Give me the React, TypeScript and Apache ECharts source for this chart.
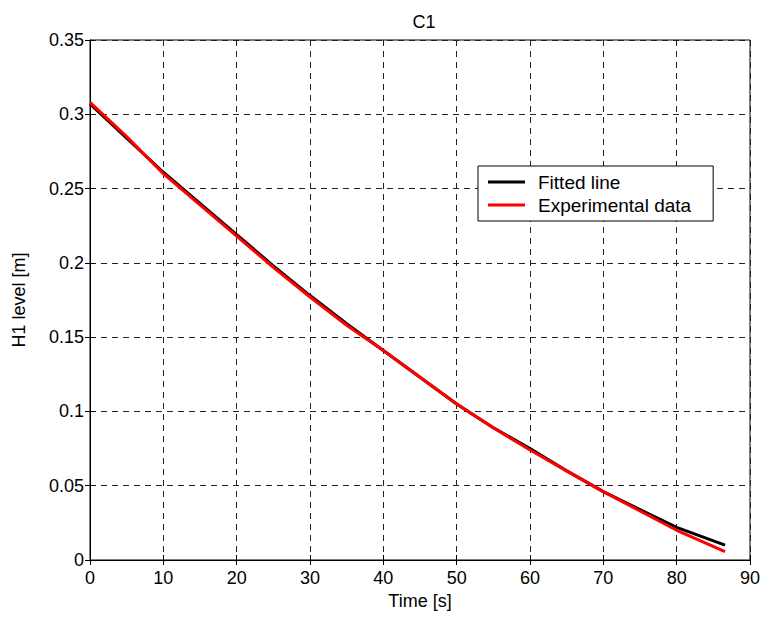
import React, { useEffect, useRef } from "react";
import * as echarts from "echarts";

const timeS = [0, 5, 10, 15, 20, 25, 30, 35, 40, 45, 50, 55, 60, 65, 70, 75, 80, 86.6];
const fittedH = [0.307, 0.284, 0.261, 0.240, 0.219, 0.198, 0.178, 0.159, 0.141, 0.123, 0.105, 0.089, 0.075, 0.060, 0.046, 0.034, 0.022, 0.0100];
const experimentalH = [0.308, 0.285, 0.260, 0.239, 0.218, 0.197, 0.177, 0.158, 0.141, 0.123, 0.105, 0.089, 0.074, 0.060, 0.046, 0.033, 0.020, 0.0056];
const seriesNames = ["Fitted line", "Experimental data"];
const titleText = "C1";
const xName = "Time [s]";
const yName = "H1 level [m]";

const FONT = "Liberation Sans, Arial, sans-serif";

export default function App() {
  const ref = useRef<HTMLDivElement>(null);
  useEffect(() => {
    document.body.style.margin = "0";
    const chart = echarts.init(ref.current!, null, { renderer: "svg" });
    const fitted = timeS.map((t, i) => [t, fittedH[i]]);
    const exp = timeS.map((t, i) => [t, experimentalH[i]]);
    const axisLine = { show: true, lineStyle: { color: "#000", width: 1 } };
    const tick = { show: true, inside: true, length: 5, lineStyle: { color: "#000" } };
    const grid = { show: true, lineStyle: { color: "#222", type: [6, 5], width: 1 } };
    chart.setOption({
      animation: false,
      backgroundColor: "#fff",
      textStyle: { fontFamily: FONT },
      title: {
        text: titleText,
        left: 419,
        top: 8,
        textAlign: "center",
        textStyle: { fontFamily: FONT, fontSize: 18, fontWeight: "normal", color: "#000" },
      },
      grid: { left: 90, right: 15, top: 40, bottom: 61, containLabel: false, show: true, borderColor: "#000", borderWidth: 1 },
      legend: {
        data: seriesNames,
        orient: "vertical",
        left: 478,
        top: 166,
        backgroundColor: "#fff",
        borderColor: "#000",
        borderWidth: 1,
        borderRadius: 0,
        padding: [6, 22, 6, 10],
        itemGap: 3,
        itemWidth: 37,
        itemHeight: 3,
        icon: "rect",
        textStyle: { fontFamily: FONT, fontSize: 19, color: "#000", lineHeight: 20, padding: [0, 0, 0, 8] },
      },
      xAxis: [
        {
          type: "value",
          min: 0,
          max: 90,
          interval: 10,
          name: xName,
          nameLocation: "middle",
          nameGap: 31,
          nameTextStyle: { fontFamily: FONT, fontSize: 18, color: "#000" },
          axisLine,
          axisTick: tick,
          axisLabel: { fontFamily: FONT, fontSize: 18, color: "#000", margin: 9 },
          splitLine: grid,
        },
        {
          type: "value",
          position: "top",
          min: 0,
          max: 90,
          interval: 10,
          axisLine,
          axisTick: tick,
          axisLabel: { show: false },
          splitLine: { show: false },
        },
      ],
      yAxis: [
        {
          type: "value",
          min: 0,
          max: 0.35,
          interval: 0.05,
          name: yName,
          nameLocation: "middle",
          nameGap: 62,
          nameTextStyle: { fontFamily: FONT, fontSize: 18, color: "#000" },
          axisLine,
          axisTick: tick,
          axisLabel: { fontFamily: FONT, fontSize: 18, color: "#000", margin: 6 },
          splitLine: grid,
        },
        {
          type: "value",
          position: "right",
          min: 0,
          max: 0.35,
          interval: 0.05,
          axisLine,
          axisTick: tick,
          axisLabel: { show: false },
          splitLine: { show: false },
        },
      ],
      series: [
        {
          name: seriesNames[0],
          type: "line",
          data: fitted,
          showSymbol: false,
          lineStyle: { color: "#000", width: 3 },
          itemStyle: { color: "#000" },
        },
        {
          name: seriesNames[1],
          type: "line",
          data: exp,
          showSymbol: false,
          lineStyle: { color: "#ff0000", width: 3 },
          itemStyle: { color: "#ff0000" },
        },
      ],
    });
    return () => chart.dispose();
  }, []);
  return <div ref={ref} style={{ width: 765, height: 621, position: "absolute", left: 0, top: 0 }} />;
}
